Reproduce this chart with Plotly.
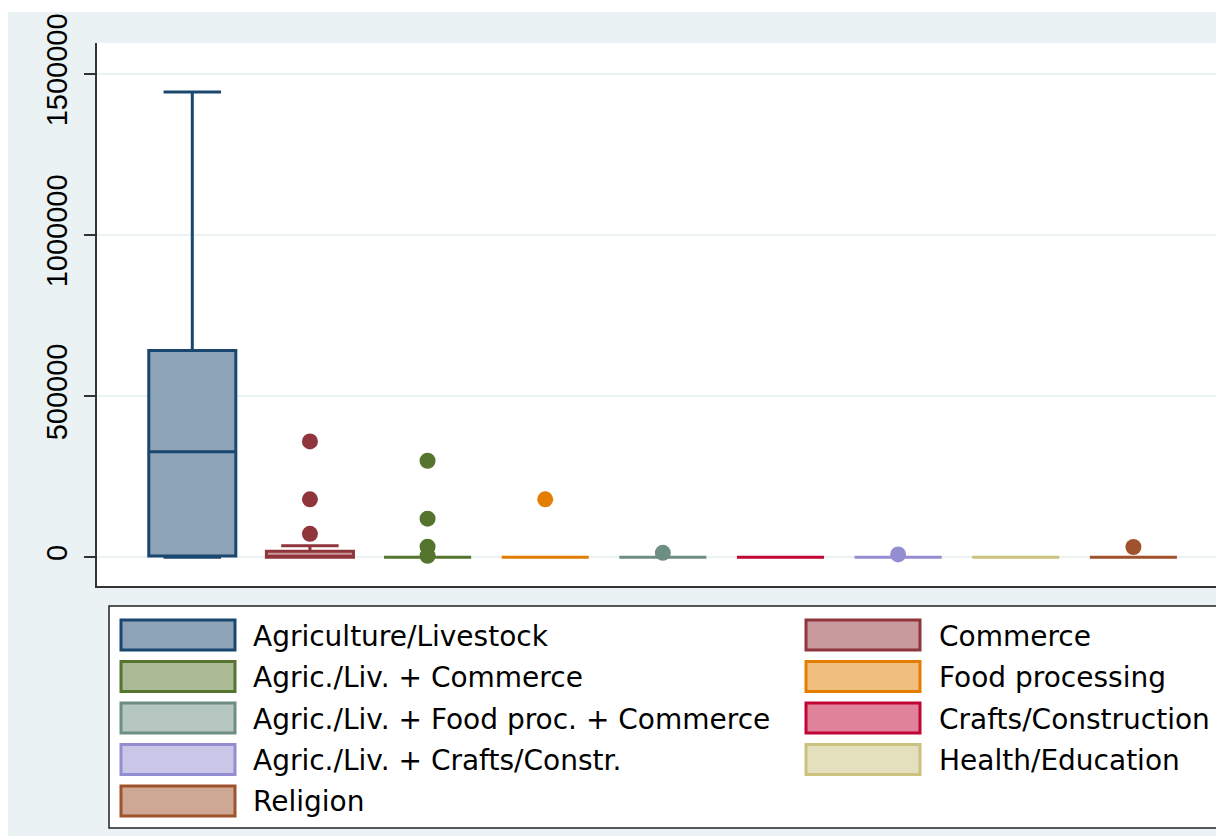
import plotly.graph_objects as go

# ---------------- data ----------------
categories = [
    "Agriculture/Livestock",
    "Commerce",
    "Agric./Liv. + Commerce",
    "Food processing",
    "Agric./Liv. + Food proc. + Commerce",
    "Crafts/Construction",
    "Agric./Liv. + Crafts/Constr.",
    "Health/Education",
    "Religion",
]
lowerfence = [0, 0, 0, 0, 0, 0, 0, 0, 0]
q1 = [4000, 0, 0, 0, 0, 0, 0, 0, 0]
median = [328000, 3000, 0, 0, 0, 0, 0, 0, 0]
q3 = [642000, 19000, 0, 0, 0, 0, 0, 0, 0]
upperfence = [1445000, 36000, 0, 0, 0, 0, 0, 0, 0]
outliers = [
    [],
    [360000, 180000, 73000],
    [300000, 120000, 33000, 5000],
    [180000],
    [14000],
    [],
    [9000],
    [],
    [32000],
]
tick_vals = [0, 500000, 1000000, 1500000]
tick_text = ["0", "500000", "1000000", "1500000"]

# ---------------- styles ----------------
line_colors = ["#1A476F", "#90353B", "#55752F", "#E37E00", "#6E8E84",
               "#C10534", "#938DD2", "#CAC27E", "#A0522D"]
fill_colors = ["#8DA3B8", "#C8999D", "#A9BA94", "#F0BE7F", "#B6C6C1",
               "#E0829A", "#C9C6E8", "#E4E0BE", "#CFA895"]
BG = "#EAF2F3"
FONT = "Liberation Sans, Arial, sans-serif"
LEG_FONT = "DejaVu Sans, sans-serif"

OFF = 8  # page body margin
W, H = 1216, 828
L, R, T, B = 89, 0, 35, 250
PW = W - L - R
PH = H - T - B


def px_x(p):  # screen pixel -> paper
    return (p - OFF - L) / PW


def px_y(p):
    return (H - B - (p - OFF)) / PH


fig = go.Figure()

for i, cat in enumerate(categories):
    fig.add_trace(go.Box(
        x=[i], q1=[q1[i]], median=[median[i]], q3=[q3[i]],
        lowerfence=[lowerfence[i]], upperfence=[upperfence[i]],
        name=cat, width=0.74, whiskerwidth=0.66,
        line=dict(color=line_colors[i], width=3),
        fillcolor=fill_colors[i], boxpoints=False, showlegend=False,
    ))
    if outliers[i]:
        fig.add_trace(go.Scatter(
            x=[i] * len(outliers[i]), y=outliers[i], mode="markers",
            marker=dict(color=line_colors[i], size=16, line=dict(width=0)),
            showlegend=False, name=cat,
        ))

shapes = []
annotations = []
# thin white strip at top edge
shapes.append(dict(type="rect", xref="paper", yref="paper",
                   x0=px_x(0), x1=px_x(1300), y0=px_y(12), y1=px_y(0),
                   fillcolor="white", line=dict(width=0), layer="below"))
# legend frame
shapes.append(dict(type="rect", xref="paper", yref="paper",
                   x0=px_x(109), x1=px_x(1219), y0=px_y(828), y1=px_y(606),
                   fillcolor="white", line=dict(color="#222", width=1.5),
                   layer="below"))
sym_x0 = [121, 806]
txt_x = [251, 937]
for i, cat in enumerate(categories):
    col, row = i % 2, i // 2
    cy = 635 + 41.5 * row
    shapes.append(dict(type="rect", xref="paper", yref="paper",
                       x0=px_x(sym_x0[col]), x1=px_x(sym_x0[col] + 114),
                       y0=px_y(cy + 15), y1=px_y(cy - 15),
                       fillcolor=fill_colors[i],
                       line=dict(color=line_colors[i], width=3)))
    annotations.append(dict(xref="paper", yref="paper",
                            x=px_x(txt_x[col]), y=px_y(cy + 1),
                            xanchor="left", yanchor="middle", showarrow=False,
                            text=cat, font=dict(family=LEG_FONT, size=28, color="black")))

fig.update_layout(
    width=W, height=H,
    margin=dict(l=L, r=R, t=T, b=B, pad=0),
    paper_bgcolor=BG, plot_bgcolor="white",
    showlegend=False,
    shapes=shapes, annotations=annotations,
    font=dict(family=FONT, color="black"),
    xaxis=dict(range=[-0.81, 8.77], showticklabels=False, ticks="",
               showgrid=False, zeroline=False, showline=True,
               linecolor="#333", linewidth=2),
    yaxis=dict(range=[-89000, 1597000], tickvals=tick_vals, ticktext=tick_text,
               tickangle=-90, tickfont=dict(size=29, family=FONT, color="black"),
               ticks="outside", ticklen=11, tickwidth=2, tickcolor="#333",
               showline=True, linecolor="#333", linewidth=2,
               showgrid=True, gridcolor=BG, gridwidth=2, zeroline=False,
               ticklabelstandoff=5),
)

fig.write_html("out.html")
